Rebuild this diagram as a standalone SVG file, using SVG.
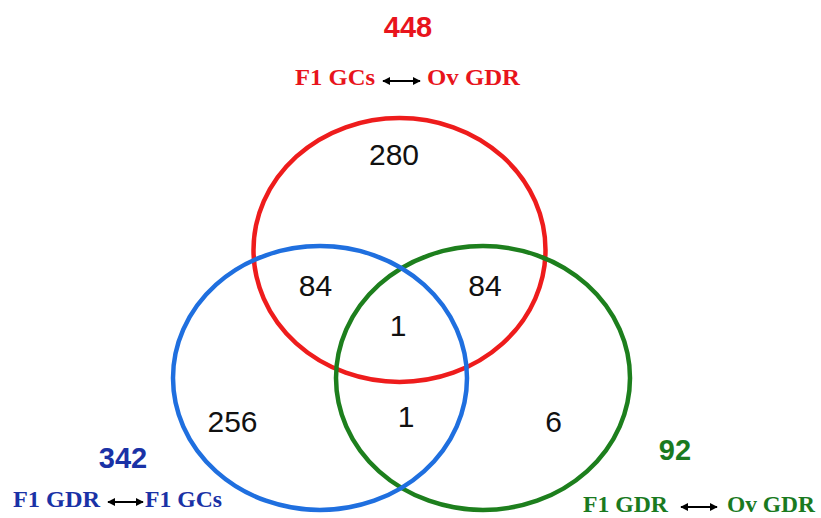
<svg xmlns="http://www.w3.org/2000/svg" width="821" height="518" viewBox="0 0 821 518">
  <defs>
    <marker id="head" viewBox="0 0 10 10" refX="9" refY="5" markerWidth="4" markerHeight="4" orient="auto-start-reverse" markerUnits="strokeWidth">
      <path d="M0,0 L10,5 L0,10 Z" fill="#000"/>
    </marker>
    <style>
      .set { fill: none; stroke-width: 4.5; }
      .count { font-family: "Liberation Sans", Arial, sans-serif; font-size: 30px; fill: #111; text-anchor: middle; }
      .total { font-family: "Liberation Sans", Arial, sans-serif; font-size: 29px; font-weight: bold; text-anchor: middle; }
      .pair { font-family: "Liberation Serif", "Times New Roman", serif; font-size: 23px; font-weight: bold; }
      .link { stroke: #000; stroke-width: 2; fill: none; marker-start: url(#head); marker-end: url(#head); }
    </style>
  </defs>
  <rect width="821" height="518" fill="#fff"/>

  <!-- set outlines -->
  <g id="set-ov-gdr-f1-gcs">
    <ellipse class="set" cx="399.5" cy="250" rx="146" ry="132" stroke="#ee1c1c"/>
  </g>
  <g id="set-f1-gdr-ov-gdr">
    <ellipse class="set" cx="483" cy="378" rx="147" ry="132" stroke="#1d7f1d"/>
  </g>
  <g id="set-f1-gdr-f1-gcs">
    <ellipse class="set" cx="320" cy="378" rx="147" ry="132" stroke="#1f6fdf"/>
  </g>

  <!-- region counts -->
  <g id="counts">
    <text class="count" x="394" y="165">280</text>
    <text class="count" x="315.5" y="296">84</text>
    <text class="count" x="485" y="296">84</text>
    <text class="count" x="398" y="336">1</text>
    <text class="count" x="406" y="427">1</text>
    <text class="count" x="232.5" y="432">256</text>
    <text class="count" x="553.5" y="432">6</text>
  </g>

  <!-- set labels -->
  <g id="label-red" fill="#e8141c">
    <text class="total" x="408" y="37" fill="#e8141c">448</text>
    <text class="pair" x="295" y="85" textLength="80" lengthAdjust="spacingAndGlyphs">F1 GCs</text>
    <text class="pair" x="427" y="85" textLength="93" lengthAdjust="spacingAndGlyphs">Ov GDR</text>
  </g>
  <g id="label-blue" fill="#1a32a6">
    <text class="total" x="123" y="468" fill="#1a32a6">342</text>
    <text class="pair" x="13" y="507" textLength="87" lengthAdjust="spacingAndGlyphs">F1 GDR</text>
    <text class="pair" x="145" y="507" textLength="77" lengthAdjust="spacingAndGlyphs">F1 GCs</text>
  </g>
  <g id="label-green" fill="#1a7a1f">
    <text class="total" x="675" y="460" fill="#1a7a1f">92</text>
    <text class="pair" x="583" y="512" textLength="85" lengthAdjust="spacingAndGlyphs">F1 GDR</text>
    <text class="pair" x="727" y="512" textLength="88" lengthAdjust="spacingAndGlyphs">Ov GDR</text>
  </g>

  <!-- double-headed arrows -->
  <g id="connectors">
    <line class="link" x1="383" y1="81" x2="420" y2="81"/>
    <line class="link" x1="108" y1="502" x2="143" y2="502"/>
    <line class="link" x1="681" y1="507" x2="717" y2="507"/>
  </g>
</svg>
